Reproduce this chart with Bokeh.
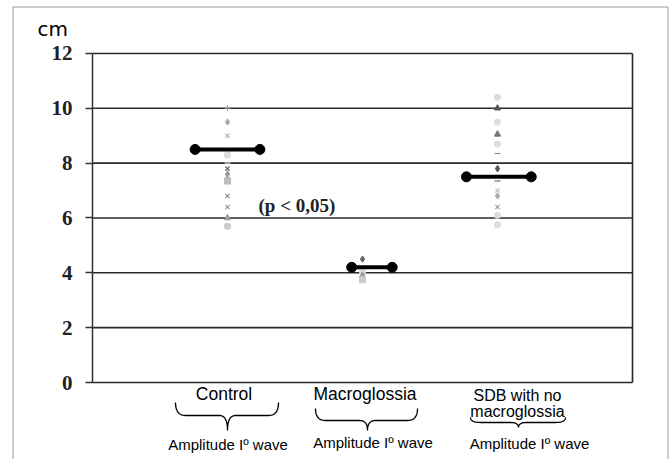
import numpy as np
from bokeh.plotting import figure
from bokeh.models import Range1d, FixedTicker, ColumnDataSource
from bokeh.core.properties import value
from bokeh.embed import file_html
from bokeh.resources import INLINE

# ---------------- data ----------------
categories = ["Control", "Macroglossia", "SDB with no macroglossia"]
category_lines = [["Control"], ["Macroglossia"], ["SDB with no", "macroglossia"]]
sub_label = "Amplitude Iº wave"
control_values = [10.0, 9.5, 9.0, 8.3, 8.0, 7.8, 7.6, 7.45, 7.35, 6.8, 6.4, 6.0, 5.7]
macro_values = [4.5, 4.05, 3.9, 3.75]
sdb_values = [10.4, 10.0, 9.5, 9.05, 8.7, 8.35, 7.8, 7.35, 7.0, 6.8, 6.4, 6.1, 5.75]
group_means = [8.5, 4.2, 7.5]
y_ticks = [0, 2, 4, 6, 8, 10, 12]
p_text = "(p < 0,05)"
unit_label = "cm"

# ---------------- styles / layout ----------------
control_markers = ["cross", "diamond", "x", "circle", "dash", "x", "diamond", "triangle", "square", "x", "x", "triangle", "circle"]
control_colors = ["#999", "#aaa", "#aaa", "#ddd", "#ccc", "#666", "#999", "#aaa", "#bbb", "#888", "#999", "#999", "#ccc"]
macro_markers = ["diamond", "circle", "triangle", "square"]
macro_colors = ["#666", "#ddd", "#999", "#ccc"]
sdb_markers = ["circle", "triangle", "circle", "triangle", "circle", "dash", "diamond", "dash", "x", "diamond", "x", "circle", "circle"]
sdb_colors = ["#ddd", "#555", "#ddd", "#777", "#ddd", "#888", "#555", "#555", "#bbb", "#aaa", "#999", "#ddd", "#ddd"]

group_x = [1, 2, 3]
mean_half = [0.24, 0.15, 0.24]
mean_shift = [0.0, 0.07, 0.01]

PX_X = 135.0      # pixels per category unit
PX_Y = 27.42      # pixels per cm
X0 = 92           # screen x of category 0
Y0 = 382          # screen y of value 0
W, H = 672, 459


def dx(px):
    return (px - X0) / PX_X


def dy(py):
    return (Y0 - py) / PX_Y


p = figure(width=W, height=H,
           x_range=Range1d(dx(0), dx(W)),
           y_range=Range1d(dy(H), dy(0)),
           output_backend="svg", toolbar_location=None,
           x_axis_location=None,
           min_border_left=0, min_border_right=0, min_border_top=0, min_border_bottom=0)
p.outline_line_color = None
for g in p.grid:
    g.visible = False

ax = p.yaxis[0]
ax.fixed_location = 0
ax.ticker = FixedTicker(ticks=y_ticks)
ax.bounds = (0, 12)
ax.axis_line_color = "#333"
ax.axis_line_width = 1.5
ax.major_tick_line_color = "#333"
ax.major_tick_line_width = 1.5
ax.major_tick_out = 7
ax.major_tick_in = 0
ax.minor_tick_line_color = None
ax.major_label_standoff = 13
ax.major_label_text_font = "Liberation Serif"
ax.major_label_text_font_size = "21px"
ax.major_label_text_font_style = "bold"
ax.major_label_text_color = "#222"

# gridlines and right border
p.segment(x0=[0] * len(y_ticks), x1=[4] * len(y_ticks), y0=y_ticks, y1=y_ticks,
          line_color="#2a2a2a", line_width=1.6)
p.segment(x0=[4], x1=[4], y0=[y_ticks[0]], y1=[y_ticks[-1]], line_color="#2a2a2a", line_width=1.6)

# points
groups = [(control_values, control_markers, control_colors),
          (macro_values, macro_markers, macro_colors),
          (sdb_values, sdb_markers, sdb_colors)]
for gx, (vals, mk, cl) in zip(group_x, groups):
    src = ColumnDataSource(dict(x=[gx] * len(vals), y=vals, m=mk, c=cl))
    p.scatter("x", "y", marker="m", source=src, size=6, line_color="c", fill_color="c", line_width=1.1)

# mean bars
mx0 = [g - h + s for g, h, s in zip(group_x, mean_half, mean_shift)]
mx1 = [g + h + s for g, h, s in zip(group_x, mean_half, mean_shift)]
p.segment(x0=mx0, x1=mx1, y0=group_means, y1=group_means, line_color="black", line_width=4)
p.scatter(x=mx0 + mx1, y=group_means + group_means, size=10, color="black")

# p-value text
p.text(x=[dx(258)], y=[dy(205)], text=[p_text], text_font=value("Liberation Serif"),
       text_font_size="19px", text_font_style="bold", text_baseline="middle", text_align="left",
       text_color="#222")

# unit label
p.text(x=[dx(37)], y=[dy(28)], text=[unit_label], text_font=value("DejaVu Sans"),
       text_font_size="20px", text_baseline="middle", text_align="left", text_color="black")

# category labels (vertical centres)
cat_x = [dx(223.5), dx(364.5), dx(517)]
line_y = [[dy(393.5)], [dy(393.5)], [dy(395), dy(410.5)]]
cat_size = ["17.5px", "17.5px", "16px"]
for cx, lines, ly, fs in zip(cat_x, category_lines, line_y, cat_size):
    p.text(x=[cx] * len(lines), y=ly, text=lines, text_font=value("Liberation Sans"),
           text_font_size=fs, text_align="center", text_baseline="middle", text_color="black")

sub_x = [dx(227.5), dx(372.5), dx(529)]
sub_y = [dy(443.8), dy(441.8), dy(442.8)]
p.text(x=sub_x, y=sub_y, text=[sub_label] * 3, text_font=value("Liberation Sans"),
       text_font_size="15px", text_align="center", text_baseline="middle", text_color="black")

# braces: xl, xr, xt, y_end, y_mid, y_tip (screen px)
brace_px = [
    (175, 278, 227, 402, 415, 430),
    (315, 417, 367, 408, 420, 430),
    (470, 565, 518, 417, 422, 427),
]
t = np.linspace(0, 1, 14)


def quad(p0, c, p1):
    return (list((1 - t) ** 2 * p0[0] + 2 * (1 - t) * t * c[0] + t ** 2 * p1[0]),
            list((1 - t) ** 2 * p0[1] + 2 * (1 - t) * t * c[1] + t ** 2 * p1[1]))


bx, by = [], []
rx_end = 10 / PX_X
rx_tip = 8 / PX_X
for xl_, xr_, xt_, ye_, ym_, yt_ in brace_px:
    xl, xr, xt = dx(xl_), dx(xr_), dx(xt_)
    ye, ym, yt = dy(ye_), dy(ym_), dy(yt_)
    xs, ys = [], []
    for seg in [quad((xl, ye), (xl, ym), (xl + rx_end, ym)),
                ([xl + rx_end, xt - rx_tip], [ym, ym]),
                quad((xt - rx_tip, ym), (xt, ym), (xt, yt)),
                quad((xt, yt), (xt, ym), (xt + rx_tip, ym)),
                ([xt + rx_tip, xr - rx_end], [ym, ym]),
                quad((xr - rx_end, ym), (xr, ym), (xr, ye))]:
        xs += seg[0]
        ys += seg[1]
    bx.append(xs)
    by.append(ys)
p.multi_line(xs=bx, ys=by, line_color="black", line_width=1.3)

# outer picture border (left, top, right)
p.segment(x0=[dx(12.5), dx(12.5), dx(667.5)], x1=[dx(12.5), dx(667.5), dx(667.5)],
          y0=[dy(470), dy(6.5), dy(6.5)], y1=[dy(6.5), dy(6.5), dy(470)],
          line_color="#999", line_width=1)

open("out.html", "w").write(file_html(p, INLINE))
